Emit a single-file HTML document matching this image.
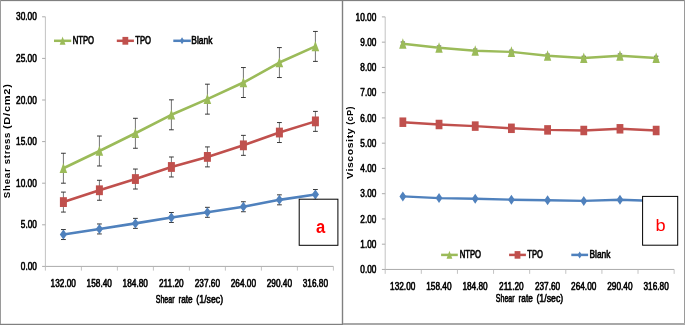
<!DOCTYPE html>
<html lang="en"><head><meta charset="utf-8"><title>Shear stress and viscosity vs shear rate</title>
<style>html,body{margin:0;padding:0;background:#fff}body{width:685px;height:325px;overflow:hidden}svg{display:block}</style>
</head><body>
<svg width="685" height="325" viewBox="0 0 685 325" font-family="'Liberation Sans', sans-serif">
<rect width="685" height="325" fill="#fff"/>
<g style="will-change:transform">
<path d="M45.40 266.40H333.40M42.10 266.40H45.40M42.10 224.80H45.40M42.10 183.20H45.40M42.10 141.60H45.40M42.10 100.00H45.40M42.10 58.40H45.40M42.10 16.80H45.40" fill="none" stroke="#ababab" stroke-width="1"/>
<path d="M45.40 16.80V266.40M45.40 266.40V270.60M81.40 266.40V270.60M117.40 266.40V270.60M153.40 266.40V270.60M189.40 266.40V270.60M225.40 266.40V270.60M261.40 266.40V270.60M297.40 266.40V270.60M333.40 266.40V270.60" fill="none" stroke="#b4b4b4" stroke-width="0.8"/>
<text transform="translate(20.80,270.07) scale(0.7979,1)" font-size="10.35" font-weight="normal" fill="#000" stroke="#000" stroke-width="0.55" vector-effect="non-scaling-stroke" stroke-linejoin="round">0.00</text>
<text transform="translate(20.80,228.47) scale(0.7979,1)" font-size="10.35" font-weight="normal" fill="#000" stroke="#000" stroke-width="0.55" vector-effect="non-scaling-stroke" stroke-linejoin="round">5.00</text>
<text transform="translate(16.06,186.87) scale(0.8042,1)" font-size="10.35" font-weight="normal" fill="#000" stroke="#000" stroke-width="0.55" vector-effect="non-scaling-stroke" stroke-linejoin="round">10.00</text>
<text transform="translate(16.06,145.27) scale(0.8042,1)" font-size="10.35" font-weight="normal" fill="#000" stroke="#000" stroke-width="0.55" vector-effect="non-scaling-stroke" stroke-linejoin="round">15.00</text>
<text transform="translate(16.05,103.67) scale(0.8044,1)" font-size="10.35" font-weight="normal" fill="#000" stroke="#000" stroke-width="0.55" vector-effect="non-scaling-stroke" stroke-linejoin="round">20.00</text>
<text transform="translate(16.05,62.07) scale(0.8044,1)" font-size="10.35" font-weight="normal" fill="#000" stroke="#000" stroke-width="0.55" vector-effect="non-scaling-stroke" stroke-linejoin="round">25.00</text>
<text transform="translate(16.05,20.47) scale(0.8045,1)" font-size="10.35" font-weight="normal" fill="#000" stroke="#000" stroke-width="0.55" vector-effect="non-scaling-stroke" stroke-linejoin="round">30.00</text>
<text transform="translate(50.61,287.37) scale(0.7987,1)" font-size="10.35" font-weight="normal" fill="#000" stroke="#000" stroke-width="0.55" vector-effect="non-scaling-stroke" stroke-linejoin="round">132.00</text>
<text transform="translate(86.61,287.37) scale(0.7987,1)" font-size="10.35" font-weight="normal" fill="#000" stroke="#000" stroke-width="0.55" vector-effect="non-scaling-stroke" stroke-linejoin="round">158.40</text>
<text transform="translate(122.61,287.37) scale(0.7987,1)" font-size="10.35" font-weight="normal" fill="#000" stroke="#000" stroke-width="0.55" vector-effect="non-scaling-stroke" stroke-linejoin="round">184.80</text>
<text transform="translate(159.03,287.37) scale(0.7984,1)" font-size="10.35" font-weight="normal" fill="#000" stroke="#000" stroke-width="0.55" vector-effect="non-scaling-stroke" stroke-linejoin="round">211.20</text>
<text transform="translate(194.71,287.37) scale(0.7989,1)" font-size="10.35" font-weight="normal" fill="#000" stroke="#000" stroke-width="0.55" vector-effect="non-scaling-stroke" stroke-linejoin="round">237.60</text>
<text transform="translate(230.71,287.37) scale(0.7989,1)" font-size="10.35" font-weight="normal" fill="#000" stroke="#000" stroke-width="0.55" vector-effect="non-scaling-stroke" stroke-linejoin="round">264.00</text>
<text transform="translate(266.71,287.37) scale(0.7989,1)" font-size="10.35" font-weight="normal" fill="#000" stroke="#000" stroke-width="0.55" vector-effect="non-scaling-stroke" stroke-linejoin="round">290.40</text>
<text transform="translate(302.75,287.37) scale(0.7989,1)" font-size="10.35" font-weight="normal" fill="#000" stroke="#000" stroke-width="0.55" vector-effect="non-scaling-stroke" stroke-linejoin="round">316.80</text>
<path d="M63.40 153.25V183.20M99.40 136.03V165.98M135.40 118.30V148.26M171.40 99.83V129.79M207.40 84.19V114.14M243.40 67.55V97.50M279.40 47.58V77.54M315.40 31.44V61.40" fill="none" stroke="#505050" stroke-width="0.8"/>
<path d="M61.00 153.25h4.8M61.00 183.20h4.8M97.00 136.03h4.8M97.00 165.98h4.8M133.00 118.30h4.8M133.00 148.26h4.8M169.00 99.83h4.8M169.00 129.79h4.8M205.00 84.19h4.8M205.00 114.14h4.8M241.00 67.55h4.8M241.00 97.50h4.8M277.00 47.58h4.8M277.00 77.54h4.8M313.00 31.44h4.8M313.00 61.40h4.8" fill="none" stroke="#2e2e2e" stroke-width="0.95"/>
<polyline points="63.40,168.22 99.40,151.00 135.40,133.28 171.40,114.81 207.40,99.17 243.40,82.53 279.40,62.56 315.40,46.42" fill="none" stroke="#9BBB59" stroke-width="2.6" stroke-linejoin="round" stroke-linecap="round"/>
<path d="M63.40 162.92L67.20 173.02L59.60 173.02Z" fill="#9BBB59"/>
<path d="M99.40 145.70L103.20 155.80L95.60 155.80Z" fill="#9BBB59"/>
<path d="M135.40 127.98L139.20 138.08L131.60 138.08Z" fill="#9BBB59"/>
<path d="M171.40 109.51L175.20 119.61L167.60 119.61Z" fill="#9BBB59"/>
<path d="M207.40 93.87L211.20 103.97L203.60 103.97Z" fill="#9BBB59"/>
<path d="M243.40 77.23L247.20 87.33L239.60 87.33Z" fill="#9BBB59"/>
<path d="M279.40 57.26L283.20 67.36L275.60 67.36Z" fill="#9BBB59"/>
<path d="M315.40 41.12L319.20 51.22L311.60 51.22Z" fill="#9BBB59"/>
<path d="M63.40 192.10V212.07M99.40 180.29V200.26M135.40 169.06V189.02M171.40 156.99V176.96M207.40 146.92V166.89M243.40 135.36V155.33M279.40 122.55V142.52M315.40 111.40V131.37" fill="none" stroke="#505050" stroke-width="0.8"/>
<path d="M61.00 192.10h4.8M61.00 212.07h4.8M97.00 180.29h4.8M97.00 200.26h4.8M133.00 169.06h4.8M133.00 189.02h4.8M169.00 156.99h4.8M169.00 176.96h4.8M205.00 146.92h4.8M205.00 166.89h4.8M241.00 135.36h4.8M241.00 155.33h4.8M277.00 122.55h4.8M277.00 142.52h4.8M313.00 111.40h4.8M313.00 131.37h4.8" fill="none" stroke="#2e2e2e" stroke-width="0.95"/>
<polyline points="63.40,202.09 99.40,190.27 135.40,179.04 171.40,166.98 207.40,156.91 243.40,145.34 279.40,132.53 315.40,121.38" fill="none" stroke="#C0504D" stroke-width="2.6" stroke-linejoin="round" stroke-linecap="round"/>
<rect x="59.90" y="197.19" width="7.00" height="9.80" fill="#C0504D"/>
<rect x="95.90" y="185.37" width="7.00" height="9.80" fill="#C0504D"/>
<rect x="131.90" y="174.14" width="7.00" height="9.80" fill="#C0504D"/>
<rect x="167.90" y="162.08" width="7.00" height="9.80" fill="#C0504D"/>
<rect x="203.90" y="152.01" width="7.00" height="9.80" fill="#C0504D"/>
<rect x="239.90" y="140.44" width="7.00" height="9.80" fill="#C0504D"/>
<rect x="275.90" y="127.63" width="7.00" height="9.80" fill="#C0504D"/>
<rect x="311.90" y="116.48" width="7.00" height="9.80" fill="#C0504D"/>
<path d="M63.40 229.54V239.53M99.40 223.97V233.95M135.40 218.39V228.38M171.40 212.49V222.47M207.40 207.33V217.31M243.40 201.75V211.74M279.40 194.85V204.83M315.40 189.52V199.51" fill="none" stroke="#505050" stroke-width="0.8"/>
<path d="M61.00 229.54h4.8M61.00 239.53h4.8M97.00 223.97h4.8M97.00 233.95h4.8M133.00 218.39h4.8M133.00 228.38h4.8M169.00 212.49h4.8M169.00 222.47h4.8M205.00 207.33h4.8M205.00 217.31h4.8M241.00 201.75h4.8M241.00 211.74h4.8M277.00 194.85h4.8M277.00 204.83h4.8M313.00 189.52h4.8M313.00 199.51h4.8" fill="none" stroke="#2e2e2e" stroke-width="0.95"/>
<polyline points="63.40,234.53 99.40,228.96 135.40,223.39 171.40,217.48 207.40,212.32 243.40,206.75 279.40,199.84 315.40,194.52" fill="none" stroke="#4F81BD" stroke-width="2.6" stroke-linejoin="round" stroke-linecap="round"/>
<path d="M63.40 229.53L67.00 234.53L63.40 239.53L59.80 234.53Z" fill="#4F81BD"/>
<path d="M99.40 223.96L103.00 228.96L99.40 233.96L95.80 228.96Z" fill="#4F81BD"/>
<path d="M135.40 218.39L139.00 223.39L135.40 228.39L131.80 223.39Z" fill="#4F81BD"/>
<path d="M171.40 212.48L175.00 217.48L171.40 222.48L167.80 217.48Z" fill="#4F81BD"/>
<path d="M207.40 207.32L211.00 212.32L207.40 217.32L203.80 212.32Z" fill="#4F81BD"/>
<path d="M243.40 201.75L247.00 206.75L243.40 211.75L239.80 206.75Z" fill="#4F81BD"/>
<path d="M279.40 194.84L283.00 199.84L279.40 204.84L275.80 199.84Z" fill="#4F81BD"/>
<path d="M315.40 189.52L319.00 194.52L315.40 199.52L311.80 194.52Z" fill="#4F81BD"/>
<path d="M54.00 40.80H71.20" stroke="#9BBB59" stroke-width="2.5" fill="none"/>
<path d="M62.60 36.60L65.50 44.70L59.70 44.70Z" fill="#9BBB59"/>
<text transform="translate(72.66,44.37) scale(0.6886,1)" font-size="11.21" font-weight="normal" fill="#000" stroke="#000" stroke-width="0.55" vector-effect="non-scaling-stroke" stroke-linejoin="round">NTPO</text>
<path d="M116.80 40.80H133.90" stroke="#C0504D" stroke-width="2.5" fill="none"/>
<rect x="122.45" y="36.90" width="5.80" height="7.80" fill="#C0504D"/>
<text transform="translate(135.28,44.37) scale(0.6855,1)" font-size="11.21" font-weight="normal" fill="#000" stroke="#000" stroke-width="0.55" vector-effect="non-scaling-stroke" stroke-linejoin="round">TPO</text>
<path d="M173.30 40.80H190.80" stroke="#4F81BD" stroke-width="2.5" fill="none"/>
<path d="M182.05 37.30L184.25 40.80L182.05 44.30L179.85 40.80Z" fill="#4F81BD"/>
<text transform="translate(191.30,44.37) scale(0.7540,1)" font-size="11.21" font-weight="normal" fill="#000" stroke="#000" stroke-width="0.55" vector-effect="non-scaling-stroke" stroke-linejoin="round">Blank</text>
<text transform="translate(155.76,302.67) scale(0.6270,1)" font-size="11.23" font-weight="normal" fill="#000" stroke="#000" stroke-width="0.55" vector-effect="non-scaling-stroke" stroke-linejoin="round">Shear</text>
<text transform="translate(178.44,302.67) scale(0.7411,1)" font-size="11.19" font-weight="normal" fill="#000" stroke="#000" stroke-width="0.55" vector-effect="non-scaling-stroke" stroke-linejoin="round">rate</text>
<text transform="translate(196.35,302.67) scale(0.7809,1)" font-size="11.23" font-weight="normal" fill="#000" stroke="#000" stroke-width="0.55" vector-effect="non-scaling-stroke" stroke-linejoin="round">(1/sec)</text>
<text transform="translate(10.10,198.19) rotate(-90) scale(0.9707,0.9143)" font-size="10.0" font-weight="bold" letter-spacing="0.760" fill="#000">Shear</text>
<text transform="translate(10.10,164.14) rotate(-90) scale(0.9627,0.9143)" font-size="10.0" font-weight="bold" letter-spacing="0.638" fill="#000">stress</text>
<text transform="translate(10.10,129.05) rotate(-90) scale(1.1067,0.9143)" font-size="10.0" font-weight="bold" letter-spacing="0.661" fill="#000">(D/cm2)</text>
<rect x="299.2" y="199.2" width="38.7" height="46.1" fill="#fff" stroke="#000" stroke-width="1"/>
<text transform="translate(316.00,233.10) scale(0.9042,1)" font-size="18.36" font-weight="bold" fill="#FF0000">a</text>
<path d="M385.20 269.45H674.15M381.90 269.45H385.20M381.90 244.19H385.20M381.90 218.94H385.20M381.90 193.69H385.20M381.90 168.43H385.20M381.90 143.18H385.20M381.90 117.92H385.20M381.90 92.66H385.20M381.90 67.41H385.20M381.90 42.16H385.20M381.90 16.90H385.20" fill="none" stroke="#ababab" stroke-width="1"/>
<path d="M385.20 16.90V269.45M385.20 269.45V273.85M421.32 269.45V273.85M457.44 269.45V273.85M493.56 269.45V273.85M529.67 269.45V273.85M565.79 269.45V273.85M601.91 269.45V273.85M638.03 269.45V273.85M674.15 269.45V273.85" fill="none" stroke="#b4b4b4" stroke-width="0.8"/>
<text transform="translate(360.30,273.12) scale(0.7979,1)" font-size="10.35" font-weight="normal" fill="#000" stroke="#000" stroke-width="0.55" vector-effect="non-scaling-stroke" stroke-linejoin="round">0.00</text>
<text transform="translate(360.31,247.87) scale(0.7974,1)" font-size="10.35" font-weight="normal" fill="#000" stroke="#000" stroke-width="0.55" vector-effect="non-scaling-stroke" stroke-linejoin="round">1.00</text>
<text transform="translate(360.30,222.61) scale(0.7978,1)" font-size="10.35" font-weight="normal" fill="#000" stroke="#000" stroke-width="0.55" vector-effect="non-scaling-stroke" stroke-linejoin="round">2.00</text>
<text transform="translate(360.30,197.36) scale(0.7979,1)" font-size="10.35" font-weight="normal" fill="#000" stroke="#000" stroke-width="0.55" vector-effect="non-scaling-stroke" stroke-linejoin="round">3.00</text>
<text transform="translate(360.29,172.10) scale(0.7982,1)" font-size="10.35" font-weight="normal" fill="#000" stroke="#000" stroke-width="0.55" vector-effect="non-scaling-stroke" stroke-linejoin="round">4.00</text>
<text transform="translate(360.30,146.85) scale(0.7979,1)" font-size="10.35" font-weight="normal" fill="#000" stroke="#000" stroke-width="0.55" vector-effect="non-scaling-stroke" stroke-linejoin="round">5.00</text>
<text transform="translate(360.30,121.59) scale(0.7978,1)" font-size="10.35" font-weight="normal" fill="#000" stroke="#000" stroke-width="0.55" vector-effect="non-scaling-stroke" stroke-linejoin="round">6.00</text>
<text transform="translate(360.30,96.34) scale(0.7978,1)" font-size="10.35" font-weight="normal" fill="#000" stroke="#000" stroke-width="0.55" vector-effect="non-scaling-stroke" stroke-linejoin="round">7.00</text>
<text transform="translate(360.30,71.08) scale(0.7979,1)" font-size="10.35" font-weight="normal" fill="#000" stroke="#000" stroke-width="0.55" vector-effect="non-scaling-stroke" stroke-linejoin="round">8.00</text>
<text transform="translate(360.30,45.83) scale(0.7979,1)" font-size="10.35" font-weight="normal" fill="#000" stroke="#000" stroke-width="0.55" vector-effect="non-scaling-stroke" stroke-linejoin="round">9.00</text>
<text transform="translate(355.56,20.57) scale(0.8042,1)" font-size="10.35" font-weight="normal" fill="#000" stroke="#000" stroke-width="0.55" vector-effect="non-scaling-stroke" stroke-linejoin="round">10.00</text>
<text transform="translate(390.06,290.17) scale(0.7987,1)" font-size="10.35" font-weight="normal" fill="#000" stroke="#000" stroke-width="0.55" vector-effect="non-scaling-stroke" stroke-linejoin="round">132.00</text>
<text transform="translate(426.25,290.17) scale(0.7987,1)" font-size="10.35" font-weight="normal" fill="#000" stroke="#000" stroke-width="0.55" vector-effect="non-scaling-stroke" stroke-linejoin="round">158.40</text>
<text transform="translate(462.43,290.17) scale(0.7987,1)" font-size="10.35" font-weight="normal" fill="#000" stroke="#000" stroke-width="0.55" vector-effect="non-scaling-stroke" stroke-linejoin="round">184.80</text>
<text transform="translate(499.04,290.17) scale(0.7984,1)" font-size="10.35" font-weight="normal" fill="#000" stroke="#000" stroke-width="0.55" vector-effect="non-scaling-stroke" stroke-linejoin="round">211.20</text>
<text transform="translate(534.91,290.17) scale(0.7989,1)" font-size="10.35" font-weight="normal" fill="#000" stroke="#000" stroke-width="0.55" vector-effect="non-scaling-stroke" stroke-linejoin="round">237.60</text>
<text transform="translate(571.09,290.17) scale(0.7989,1)" font-size="10.35" font-weight="normal" fill="#000" stroke="#000" stroke-width="0.55" vector-effect="non-scaling-stroke" stroke-linejoin="round">264.00</text>
<text transform="translate(607.28,290.17) scale(0.7989,1)" font-size="10.35" font-weight="normal" fill="#000" stroke="#000" stroke-width="0.55" vector-effect="non-scaling-stroke" stroke-linejoin="round">290.40</text>
<text transform="translate(643.51,290.17) scale(0.7989,1)" font-size="10.35" font-weight="normal" fill="#000" stroke="#000" stroke-width="0.55" vector-effect="non-scaling-stroke" stroke-linejoin="round">316.80</text>
<path d="M402.85 42.03V45.47M439.04 46.03V49.47M475.22 49.08V52.52M511.41 50.18V53.62M547.59 54.08V57.52M583.78 56.28V59.72M619.97 53.98V57.42M656.15 56.23V59.67" fill="none" stroke="#505050" stroke-width="0.8"/>
<path d="M400.65 42.03h4.4M400.65 45.47h4.4M436.84 46.03h4.4M436.84 49.47h4.4M473.02 49.08h4.4M473.02 52.52h4.4M509.21 50.18h4.4M509.21 53.62h4.4M545.39 54.08h4.4M545.39 57.52h4.4M581.58 56.28h4.4M581.58 59.72h4.4M617.77 53.98h4.4M617.77 57.42h4.4M653.95 56.23h4.4M653.95 59.67h4.4" fill="none" stroke="#2e2e2e" stroke-width="0.95"/>
<polyline points="402.85,43.75 439.04,47.75 475.22,50.80 511.41,51.90 547.59,55.80 583.78,58.00 619.97,55.70 656.15,57.95" fill="none" stroke="#9BBB59" stroke-width="2.4" stroke-linejoin="round" stroke-linecap="round"/>
<path d="M402.85 38.20L406.55 48.80L399.15 48.80Z" fill="#9BBB59"/>
<path d="M439.04 42.20L442.74 52.80L435.34 52.80Z" fill="#9BBB59"/>
<path d="M475.22 45.25L478.92 55.85L471.52 55.85Z" fill="#9BBB59"/>
<path d="M511.41 46.35L515.11 56.95L507.71 56.95Z" fill="#9BBB59"/>
<path d="M547.59 50.25L551.29 60.85L543.89 60.85Z" fill="#9BBB59"/>
<path d="M583.78 52.45L587.48 63.05L580.08 63.05Z" fill="#9BBB59"/>
<path d="M619.97 50.15L623.67 60.75L616.27 60.75Z" fill="#9BBB59"/>
<path d="M656.15 52.40L659.85 63.00L652.45 63.00Z" fill="#9BBB59"/>
<polyline points="402.85,122.20 439.04,124.50 475.22,126.10 511.41,128.30 547.59,129.90 583.78,130.50 619.97,128.80 656.15,130.50" fill="none" stroke="#C0504D" stroke-width="2.4" stroke-linejoin="round" stroke-linecap="round"/>
<rect x="399.45" y="117.45" width="6.80" height="9.50" fill="#C0504D"/>
<rect x="435.64" y="119.75" width="6.80" height="9.50" fill="#C0504D"/>
<rect x="471.82" y="121.35" width="6.80" height="9.50" fill="#C0504D"/>
<rect x="508.01" y="123.55" width="6.80" height="9.50" fill="#C0504D"/>
<rect x="544.19" y="125.15" width="6.80" height="9.50" fill="#C0504D"/>
<rect x="580.38" y="125.75" width="6.80" height="9.50" fill="#C0504D"/>
<rect x="616.57" y="124.05" width="6.80" height="9.50" fill="#C0504D"/>
<rect x="652.75" y="125.75" width="6.80" height="9.50" fill="#C0504D"/>
<polyline points="402.85,196.40 439.04,198.10 475.22,198.70 511.41,199.70 547.59,200.30 583.78,200.90 619.97,199.70 656.15,201.00" fill="none" stroke="#4F81BD" stroke-width="2.4" stroke-linejoin="round" stroke-linecap="round"/>
<path d="M402.85 191.40L406.25 196.40L402.85 201.40L399.45 196.40Z" fill="#4F81BD"/>
<path d="M439.04 193.10L442.44 198.10L439.04 203.10L435.64 198.10Z" fill="#4F81BD"/>
<path d="M475.22 193.70L478.62 198.70L475.22 203.70L471.82 198.70Z" fill="#4F81BD"/>
<path d="M511.41 194.70L514.81 199.70L511.41 204.70L508.01 199.70Z" fill="#4F81BD"/>
<path d="M547.59 195.30L550.99 200.30L547.59 205.30L544.19 200.30Z" fill="#4F81BD"/>
<path d="M583.78 195.90L587.18 200.90L583.78 205.90L580.38 200.90Z" fill="#4F81BD"/>
<path d="M619.97 194.70L623.37 199.70L619.97 204.70L616.57 199.70Z" fill="#4F81BD"/>
<path d="M656.15 196.00L659.55 201.00L656.15 206.00L652.75 201.00Z" fill="#4F81BD"/>
<path d="M441.10 254.90H457.80" stroke="#9BBB59" stroke-width="2.5" fill="none"/>
<path d="M449.45 250.70L452.35 258.80L446.55 258.80Z" fill="#9BBB59"/>
<text transform="translate(459.66,258.37) scale(0.6886,1)" font-size="11.21" font-weight="normal" fill="#000" stroke="#000" stroke-width="0.55" vector-effect="non-scaling-stroke" stroke-linejoin="round">NTPO</text>
<path d="M509.10 254.90H525.90" stroke="#C0504D" stroke-width="2.5" fill="none"/>
<rect x="514.60" y="251.10" width="5.80" height="7.60" fill="#C0504D"/>
<text transform="translate(527.28,258.37) scale(0.6810,1)" font-size="11.21" font-weight="normal" fill="#000" stroke="#000" stroke-width="0.55" vector-effect="non-scaling-stroke" stroke-linejoin="round">TPO</text>
<path d="M571.30 254.90H588.10" stroke="#4F81BD" stroke-width="2.5" fill="none"/>
<path d="M579.70 251.40L581.90 254.90L579.70 258.40L577.50 254.90Z" fill="#4F81BD"/>
<text transform="translate(589.51,258.37) scale(0.7466,1)" font-size="11.21" font-weight="normal" fill="#000" stroke="#000" stroke-width="0.55" vector-effect="non-scaling-stroke" stroke-linejoin="round">Blank</text>
<text transform="translate(495.86,302.37) scale(0.6270,1)" font-size="11.23" font-weight="normal" fill="#000" stroke="#000" stroke-width="0.55" vector-effect="non-scaling-stroke" stroke-linejoin="round">Shear</text>
<text transform="translate(518.54,302.37) scale(0.7411,1)" font-size="11.19" font-weight="normal" fill="#000" stroke="#000" stroke-width="0.55" vector-effect="non-scaling-stroke" stroke-linejoin="round">rate</text>
<text transform="translate(536.45,302.37) scale(0.7809,1)" font-size="11.23" font-weight="normal" fill="#000" stroke="#000" stroke-width="0.55" vector-effect="non-scaling-stroke" stroke-linejoin="round">(1/sec)</text>
<text transform="translate(352.90,178.90) rotate(-90) scale(1.0395,0.9143)" font-size="10.0" font-weight="bold" letter-spacing="0.605" fill="#000">Viscosity</text>
<text transform="translate(352.90,124.63) rotate(-90) scale(0.8698,0.9143)" font-size="10.0" font-weight="bold" letter-spacing="0.663" fill="#000">(cP)</text>
<rect x="642.6" y="196.4" width="35.1" height="48.8" fill="#fff" stroke="#000" stroke-width="1"/>
<text transform="translate(655.42,230.50) scale(1.0889,1)" font-size="16.73" font-weight="normal" fill="#FF0000">b</text>
<rect x="0" y="0" width="685" height="1" fill="#808080"/>
<rect x="0" y="0" width="1" height="325" fill="#9a9a9a"/>
<rect x="684" y="0" width="1" height="325" fill="#9a9a9a"/>
<rect x="0" y="324" width="342" height="1" fill="#808080"/>
<rect x="1" y="323" width="341" height="1" fill="#808080" opacity="0.22"/>
<rect x="1" y="1" width="683" height="1" fill="#808080" opacity="0.12"/>
<rect x="343" y="323" width="342" height="2" fill="#a8a8a8"/>
<rect x="342" y="0" width="1" height="325" fill="#808080"/>
<rect x="341" y="0" width="1" height="325" fill="#808080" opacity="0.2"/>
<rect x="343" y="0" width="1" height="323" fill="#808080" opacity="0.2"/>
</g>
</svg>
</body></html>
